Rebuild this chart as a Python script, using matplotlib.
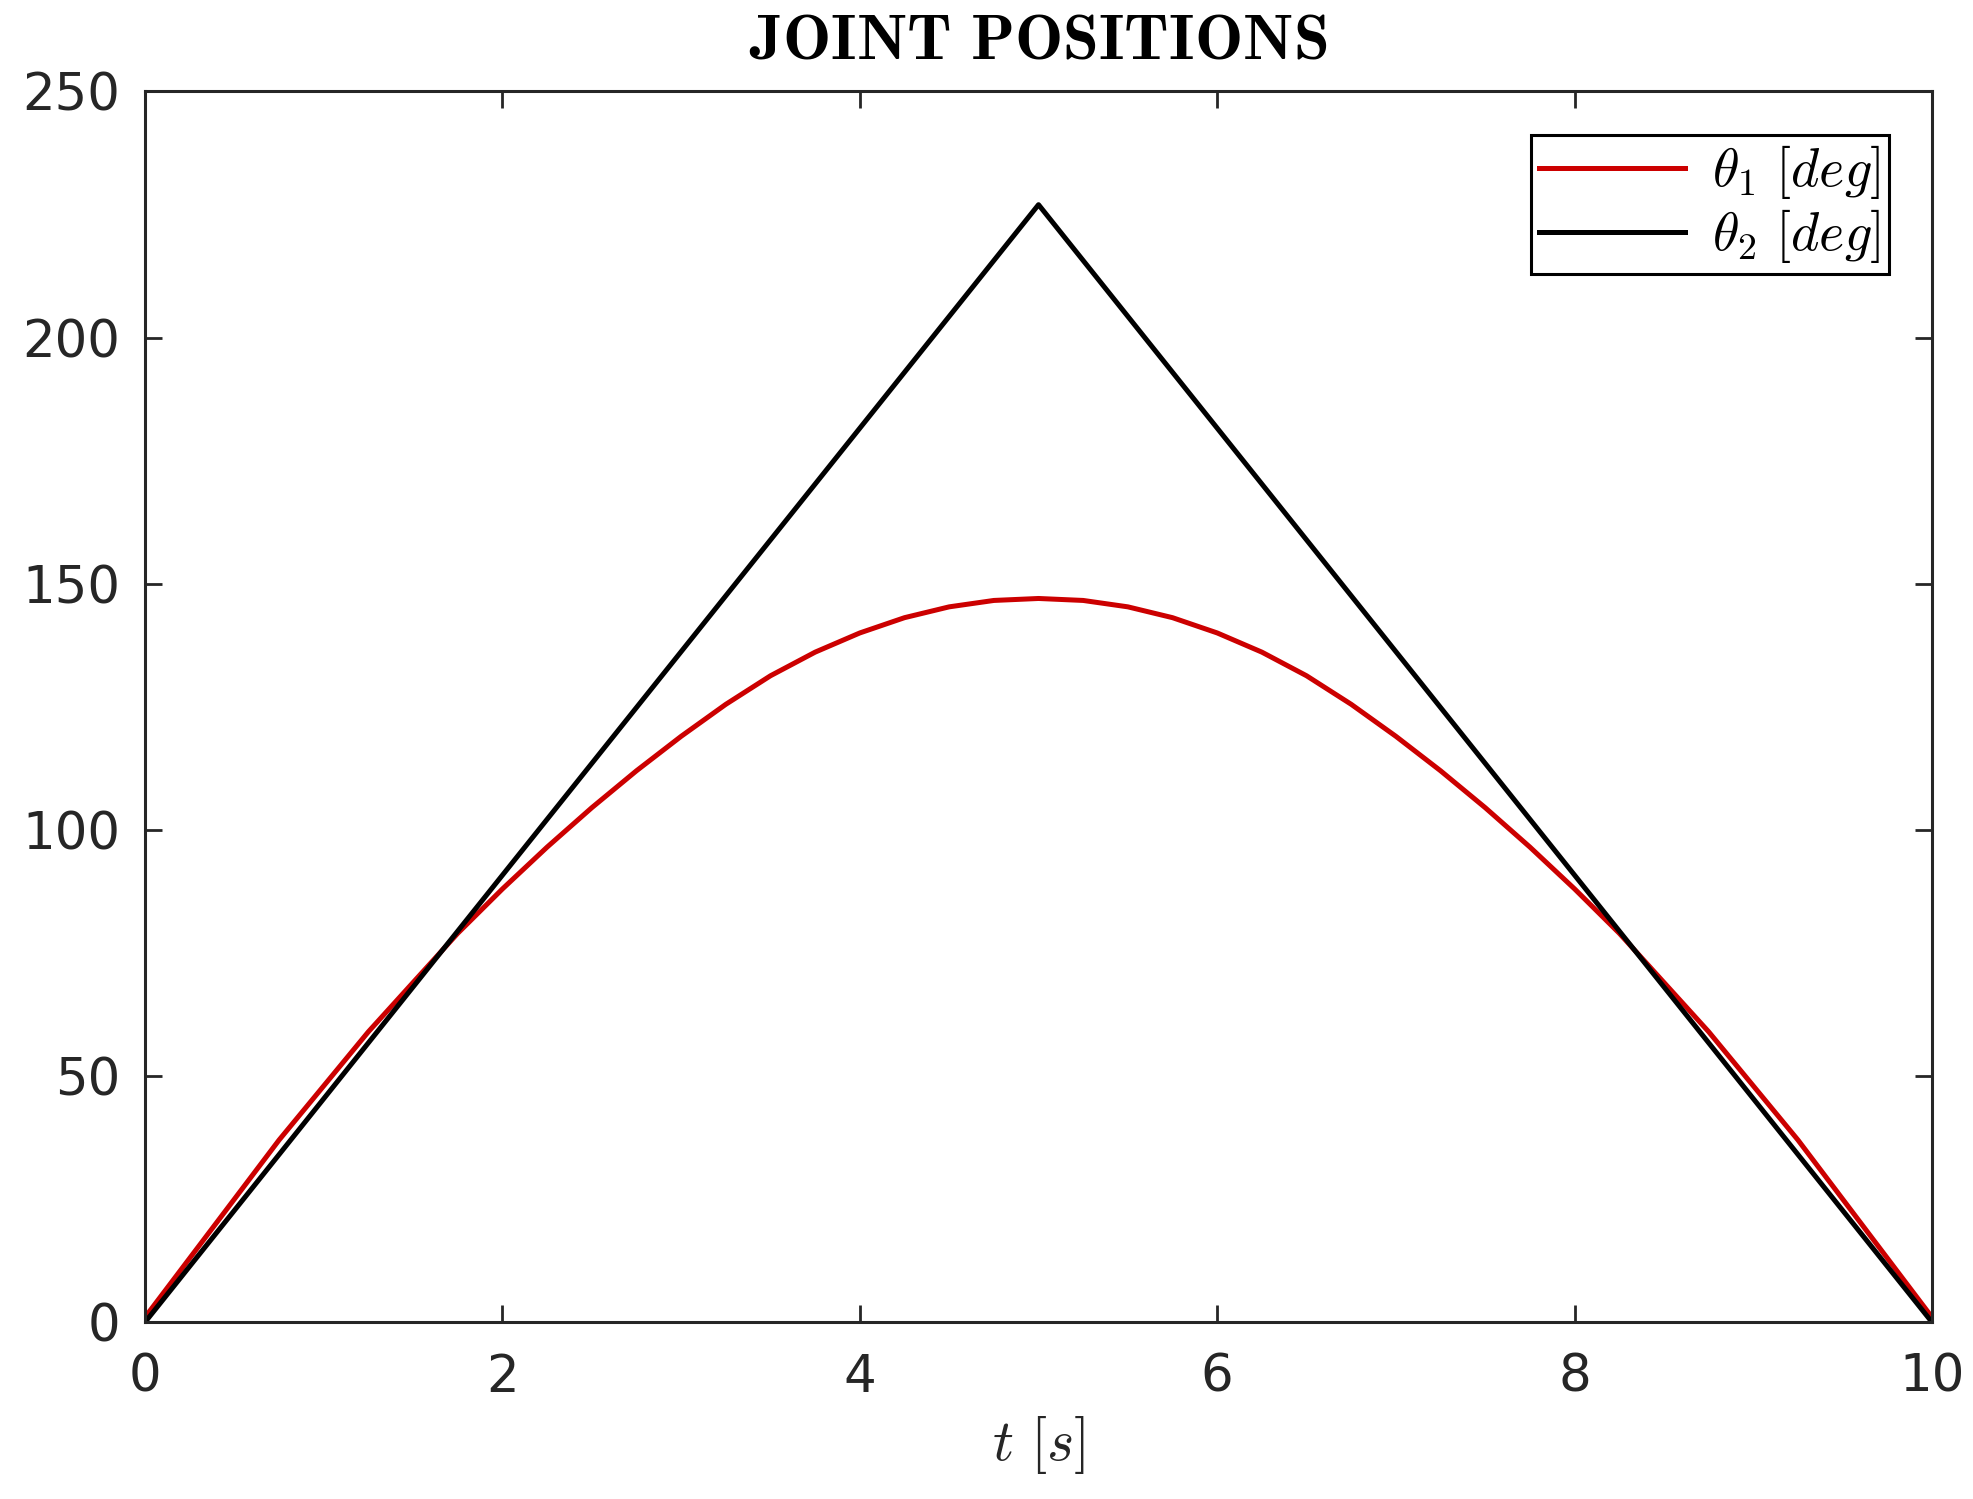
import matplotlib
matplotlib.use("Agg")
import matplotlib.pyplot as plt
import numpy as np

# tiempo [s] y posiciones articulares
t_theta1 = [0, 0.25, 0.5, 0.75, 1, 1.25, 1.5, 1.75, 2, 2.25, 2.5, 2.75, 3, 3.25, 3.5,
            3.75, 4, 4.25, 4.5, 4.75, 5, 5.25, 5.5, 5.75, 6, 6.25, 6.5, 6.75, 7, 7.25,
            7.5, 7.75, 8, 8.25, 8.5, 8.75, 9, 9.25, 9.5, 9.75, 10]
theta1 = [1, 13, 25, 37, 48, 59, 69, 79, 88, 96.5, 104.5, 112, 119, 125.5, 131.3,
          136.1, 140, 143.1, 145.3, 146.6, 147, 146.6, 145.3, 143.1, 140, 136.1, 131.3,
          125.5, 119, 112, 104.5, 96.5, 88, 79, 69, 59, 48, 37, 25, 13, 1]

t_theta2 = [0, 5, 10]
theta2 = [0, 227, 0]

xticks = [0, 2, 4, 6, 8, 10]
yticks = [0, 50, 100, 150, 200, 250]

plt.rcParams['mathtext.fontset'] = 'cm'
gris = '#262626'

fig = plt.figure(figsize=(9.87, 7.495), dpi=200)
ax = fig.add_axes([0.0735, 0.118, 0.9052, 0.821])

ax.plot(t_theta1, theta1, color='#cc0000', linewidth=1.8, label=r'$\theta_1\ [deg]$',
        solid_joinstyle='round')
ax.plot(t_theta2, theta2, color='black', linewidth=1.8, label=r'$\theta_2\ [deg]$')

ax.set_xlim(0, 10)
ax.set_ylim(0, 250)
ax.set_xticks(xticks)
ax.set_yticks(yticks)
ax.tick_params(direction='in', length=6, width=1.0, top=True, right=True,
               labelsize=18.5, colors=gris)
ax.tick_params(axis='y', pad=9)
ax.tick_params(axis='x', pad=11)
for s in ax.spines.values():
    s.set_color(gris)
    s.set_linewidth(1.1)

ax.set_xlabel(r'$t\ [s]$', fontsize=21, color=gris, labelpad=4)
ax.set_title(r'$\mathbf{JOINT\ POSITIONS}$', fontsize=23.2, pad=12)

leg = ax.legend(loc='upper right', fontsize=19.5, fancybox=False, framealpha=1,
                edgecolor='black', handlelength=2.7, borderaxespad=0.8,
                borderpad=0.15, labelspacing=0.12, handletextpad=0.5,
                handleheight=0.6)
leg.get_frame().set_linewidth(1.1)

fig.savefig('out.png', dpi=200)
